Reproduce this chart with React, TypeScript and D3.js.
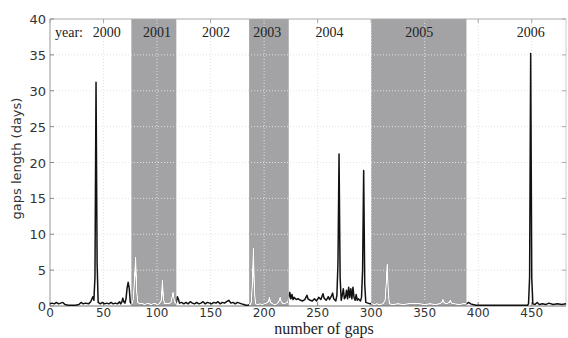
import * as d3 from "d3";

// gap lengths (days) read per year block: [gap number, length]
const gaps2000: [number, number][] = [
  [0, 0.3], [2, 0.4], [4, 0.3], [6, 0.5], [8, 0.3], [10, 0.4], [12, 0.5], [14, 0.2], [17, 0.1], [20, 0.1],
  [24, 0.1], [27, 0.2], [29, 0.5], [31, 0.3], [33, 0.4], [36, 0.3], [38, 0.6], [40, 1.3], [41, 0.8], [42, 4],
  [43, 31.2], [44, 6], [45, 0.5], [47, 0.3], [49, 0.5], [51, 0.3], [53, 0.4], [55, 0.3], [57, 0.5], [59, 0.3],
  [61, 0.4], [63, 0.3], [65, 0.6], [66, 0.3], [67, 0.5], [68, 1.1], [69, 0.6], [70, 0.4], [71, 1], [72, 2.5],
  [73, 3.3], [74, 2.5], [75, 0.5], [76, 0.3],
];
const gaps2001: [number, number][] = [
  [77, 0.4], [78, 1.2], [79, 4], [80, 6.8], [81, 2], [82, 0.5], [84, 0.3], [86, 0.4], [88, 0.2], [90, 0.3],
  [92, 0.4], [94, 0.2], [96, 0.3], [98, 0.4], [100, 0.2], [102, 0.3], [104, 0.8], [105, 3.6], [106, 1], [107, 0.3],
  [109, 0.4], [111, 0.3], [113, 0.5], [114, 1.2], [115, 1.9], [116, 0.8], [117, 0.4],
];
const gaps2002: [number, number][] = [
  [118, 0.5], [119, 1.3], [120, 0.9], [121, 0.4], [123, 0.5], [125, 0.3], [127, 0.5], [129, 0.3], [131, 0.6], [133, 0.4],
  [135, 0.3], [137, 0.5], [139, 0.3], [141, 0.4], [143, 0.6], [145, 0.3], [147, 0.5], [149, 0.4], [151, 0.3], [153, 0.5],
  [155, 0.4], [157, 0.6], [159, 0.3], [161, 0.5], [163, 0.4], [165, 0.6], [167, 0.8], [169, 0.4], [171, 0.5], [173, 0.3],
  [175, 0.5], [177, 0.4], [179, 0.3], [181, 0.2], [183, 0.1], [185, 0.1],
];
const gaps2003: [number, number][] = [
  [187, 0.2], [188, 0.5], [189, 3], [190, 8], [191, 2], [192, 0.3], [194, 0.2], [196, 0.3], [198, 0.2], [200, 0.3],
  [202, 0.4], [204, 0.6], [205, 1.2], [206, 0.5], [208, 0.3], [210, 0.2], [212, 0.3], [214, 0.7], [215, 1.2], [216, 0.6],
  [218, 0.3], [220, 0.4], [222, 0.5],
];
const gaps2004: [number, number][] = [
  [223, 1.2], [224, 1.9], [225, 1.0], [226, 1.6], [227, 0.9], [228, 1.2], [230, 0.9], [232, 1.0], [234, 0.8], [236, 0.7],
  [238, 0.9], [240, 1.5], [241, 1.0], [243, 0.8], [245, 0.7], [247, 1.0], [249, 0.7], [251, 1.2], [253, 0.9], [255, 1.7],
  [256, 1.1], [258, 0.8], [260, 1.3], [261, 0.9], [263, 1.4], [264, 1.8], [265, 1.0], [267, 0.7], [268, 1.5], [269, 6],
  [270, 21.2], [271, 4], [272, 0.8], [273, 1.5], [274, 2.4], [275, 1.0], [276, 1.2], [277, 2.2], [278, 1.0], [279, 2.6],
  [280, 1.2], [281, 2.4], [282, 1.0], [283, 2.6], [284, 1.2], [285, 0.8], [286, 1.6], [287, 0.8], [288, 1.0], [290, 0.7],
  [291, 1.2], [292, 5], [293, 18.9], [294, 3], [295, 0.5], [297, 0.4], [299, 0.3],
];
const gaps2005: [number, number][] = [
  [301, 0.3], [303, 0.2], [305, 0.3], [308, 0.2], [311, 0.3], [313, 0.8], [314, 3], [315, 5.8], [316, 2], [317, 0.3],
  [320, 0.2], [325, 0.3], [330, 0.2], [335, 0.3], [340, 0.4], [345, 0.3], [350, 0.2], [355, 0.3], [360, 0.2], [364, 0.3],
  [366, 0.5], [367, 0.9], [368, 0.5], [370, 0.3], [373, 0.5], [374, 0.8], [375, 0.4], [378, 0.3], [382, 0.2], [386, 0.3],
];
const gaps2006: [number, number][] = [
  [389, 0.3], [391, 0.5], [393, 0.3], [395, 0.2], [398, 0.1], [402, 0.1], [410, 0.1], [420, 0.1], [430, 0.1], [440, 0.1],
  [446, 0.1], [447, 0.3], [448, 4], [449, 35.2], [450, 4], [451, 0.3], [453, 0.2], [455, 0.5], [457, 0.2], [460, 0.3],
  [463, 0.2], [466, 0.4], [470, 0.2], [474, 0.3], [478, 0.2], [482, 0.3],
];

const years = ["2000", "2001", "2002", "2003", "2004", "2005", "2006"];
const yearLabelX = [53, 100, 155, 203, 261, 345, 449];
const shadedSpans: [number, number][] = [[76, 118], [186, 223], [300, 389]];
const xTicks = [0, 50, 100, 150, 200, 250, 300, 350, 400, 450];
const yTicks = [0, 5, 10, 15, 20, 25, 30, 35, 40];

const W = 568;
const H = 338;
const m = { left: 50, right: 2, top: 19, bottom: 32 };

export default function App() {
  const all = [...gaps2000, ...gaps2001, ...gaps2002, ...gaps2003, ...gaps2004, ...gaps2005, ...gaps2006];
  const x = d3.scaleLinear().domain([0, 482]).range([m.left, W - m.right]);
  const y = d3.scaleLinear().domain([0, 40]).range([H - m.bottom, m.top]);
  const line = d3.line<[number, number]>().x((d) => x(d[0])).y((d) => y(d[1]));
  const path = line(all) || "";
  const sans = "'DejaVu Sans', sans-serif";
  const serif = "'Liberation Serif', 'Times New Roman', serif";
  const x0 = m.left, x1 = W - m.right, y0 = H - m.bottom, y1 = m.top;

  return (
    <svg width={W} height={H} style={{ position: "absolute", left: 0, top: 0, background: "#fff" }}>
      <defs>
        <clipPath id="shade">
          {shadedSpans.map((s, i) => (
            <rect key={i} x={x(s[0])} y={y1} width={x(s[1]) - x(s[0])} height={y0 - y1 + 2} />
          ))}
        </clipPath>
      </defs>
      {shadedSpans.map((s, i) => (
        <rect key={i} x={x(s[0])} y={y1} width={x(s[1]) - x(s[0])} height={y0 - y1} fill="#a3a3a6" />
      ))}
      {/* faint grid */}
      {xTicks.slice(1).map((t) => (
        <line key={"gx" + t} x1={x(t)} x2={x(t)} y1={y0} y2={y1} stroke="#e2e2e2" strokeDasharray="1,2" />
      ))}
      {yTicks.slice(1, -1).map((t) => (
        <line key={"gy" + t} x1={x0} x2={x1} y1={y(t)} y2={y(t)} stroke="#e2e2e2" strokeDasharray="1,2" />
      ))}
      {/* frame */}
      <line x1={x0} x2={x1} y1={y1} y2={y1} stroke="#aaa" />
      <line x1={x0} x2={x0} y1={y0} y2={y1} stroke="#999" />
      <line x1={x1} x2={x1} y1={y0} y2={y1} stroke="#ccc" />
      <line x1={x0} x2={x1} y1={y0} y2={y0} stroke="#777" />
      {xTicks.map((t) => (
        <g key={"tx" + t}>
          <line x1={x(t)} x2={x(t)} y1={y0} y2={y0 - 4} stroke="#888" />
          <line x1={x(t)} x2={x(t)} y1={y1} y2={y1 + 4} stroke="#aaa" />
          <text x={x(t)} y={y0 + 10.5} textAnchor="middle" fontFamily={sans} fontSize={12} fill="#333">{t}</text>
        </g>
      ))}
      {yTicks.map((t) => (
        <g key={"ty" + t}>
          <line x1={x0} x2={x0 + 4} y1={y(t)} y2={y(t)} stroke="#888" />
          <line x1={x1} x2={x1 - 4} y1={y(t)} y2={y(t)} stroke="#aaa" />
          <text x={x0 - 4} y={y(t) + 5} textAnchor="end" fontFamily={sans} fontSize={13} fill="#333">{t}</text>
        </g>
      ))}
      {/* data line: black outside shaded years, white inside */}
      <path d={path} fill="none" stroke="#111" strokeWidth={1.5} strokeLinejoin="round" />
      <path d={path} fill="none" stroke="#fff" strokeWidth={1.5} strokeLinejoin="round" clipPath="url(#shade)" />
      {/* year labels */}
      <text x={55} y={37} fontFamily={serif} fontSize={14} fill="#222">year:</text>
      {years.map((yr, i) => (
        <text key={yr} x={x(yearLabelX[i])} y={37} textAnchor="middle" fontFamily={serif} fontSize={14} fill="#222">{yr}</text>
      ))}
      <text x={(x0 + x1) / 2 + 16} y={334} textAnchor="middle" fontFamily={serif} fontSize={16} fill="#222">number of gaps</text>
      <text transform={`translate(21,${(y0 + y1) / 2 - 4}) rotate(-90)`} textAnchor="middle" fontFamily={sans} fontSize={13} fill="#333">gaps length (days)</text>
    </svg>
  );
}
